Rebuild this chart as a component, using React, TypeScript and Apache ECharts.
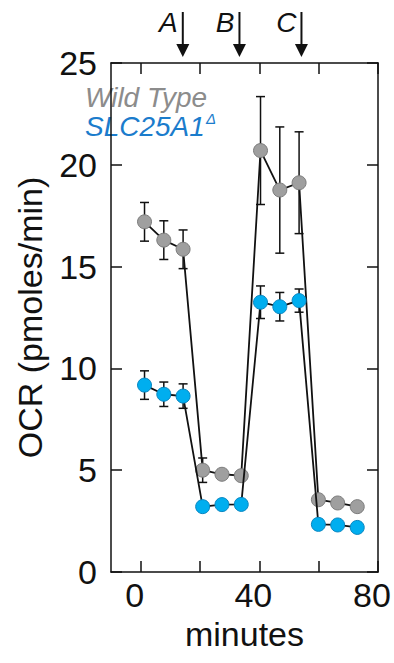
import React, { useEffect, useRef } from "react";
import * as echarts from "echarts";

const times = [1.3, 7.8, 14.3, 20.9, 27.4, 33.9, 40.4, 46.9, 53.4, 59.9, 66.4, 73.0];
const wildType = [17.2, 16.3, 15.85, 5.0, 4.8, 4.73, 20.7, 18.76, 19.12, 3.55, 3.39, 3.21];
const wildTypeErr = [0.95, 0.95, 0.95, 0.6, 0.2, 0.2, 2.65, 3.1, 2.5, 0.15, 0.15, 0.15];
const slc = [9.18, 8.73, 8.64, 3.21, 3.31, 3.32, 13.25, 13.03, 13.33, 2.34, 2.31, 2.19];
const slcErr = [0.7, 0.6, 0.6, 0.15, 0.15, 0.15, 0.8, 0.7, 0.57, 0.1, 0.1, 0.1];

const xTicks = [0, 20, 40, 60, 80];
const xLabels = [0, 40, 80];
const injectionTimes = [14.2, 33.3, 54.2];
const injectionLabels = ["A", "B", "C"];

const FONT = "Liberation Sans, Arial, Helvetica, sans-serif";

export default function App() {
  const ref = useRef<HTMLDivElement>(null);
  useEffect(() => {
    document.body.style.margin = "0";
    const chart = echarts.init(ref.current!, null, { renderer: "svg" });
    const errData = (vals: number[], errs: number[]) =>
      times.map((t, i) => [t, vals[i], errs[i]]);
    const renderErr = (params: any, api: any) => {
      const x = api.value(0);
      const y = api.value(1);
      const e = api.value(2);
      const top = api.coord([x, y + e]);
      const bot = api.coord([x, y - e]);
      const hw = 4.5;
      const st = { stroke: "#111", lineWidth: 1.5 };
      return {
        type: "group",
        children: [
          { type: "line", shape: { x1: top[0], y1: top[1], x2: bot[0], y2: bot[1] }, style: st },
          { type: "line", shape: { x1: top[0] - hw, y1: top[1], x2: top[0] + hw, y2: top[1] }, style: st },
          { type: "line", shape: { x1: bot[0] - hw, y1: bot[1], x2: bot[0] + hw, y2: bot[1] }, style: st },
        ],
      };
    };
    const axisLine = { show: true, onZero: false, lineStyle: { color: "#111", width: 1.5 } };
    const tick = { show: true, inside: true, length: 11, lineStyle: { color: "#111", width: 1.5 } };
    chart.setOption({
      animation: false,
      grid: { left: 111, right: 16, top: 63, bottom: 91 },
      xAxis: [
        {
          type: "value",
          min: -10,
          max: 80,
          position: "bottom",
          axisLine,
          axisTick: { ...tick, customValues: xTicks },
          axisLabel: {
            customValues: xLabels,
            fontSize: 34,
            fontFamily: FONT,
            color: "#111",
            margin: 6,
            padding: [0, 12, 0, 0],
          },
          splitLine: { show: false },
          name: "minutes",
          nameLocation: "middle",
          nameGap: 44,
          nameTextStyle: { fontSize: 34, fontFamily: FONT, color: "#111" },
        },
        {
          type: "value",
          min: -10,
          max: 80,
          position: "top",
          axisLine,
          axisTick: { ...tick, customValues: xTicks },
          axisLabel: { show: false },
          splitLine: { show: false },
        },
      ],
      yAxis: [
        {
          type: "value",
          min: 0,
          max: 25,
          interval: 5,
          position: "left",
          axisLine,
          axisTick: tick,
          axisLabel: { fontSize: 34, fontFamily: FONT, color: "#111", margin: 14 },
          splitLine: { show: false },
          name: "OCR (pmoles/min)",
          nameLocation: "middle",
          nameGap: 64,
          nameTextStyle: { fontSize: 34, fontFamily: FONT, color: "#111" },
        },
        {
          type: "value",
          min: 0,
          max: 25,
          interval: 5,
          position: "right",
          axisLine,
          axisTick: tick,
          axisLabel: { show: false },
          splitLine: { show: false },
        },
      ],
      series: [
        {
          type: "custom",
          name: "wtErr",
          renderItem: renderErr,
          data: errData(wildType, wildTypeErr),
          z: 1,
          encode: { x: 0, y: 1 },
        },
        {
          type: "custom",
          name: "slcErr",
          renderItem: renderErr,
          data: errData(slc, slcErr),
          z: 1,
          encode: { x: 0, y: 1 },
        },
        {
          type: "line",
          name: "Wild Type",
          data: times.map((t, i) => [t, wildType[i]]),
          symbol: "circle",
          symbolSize: 14,
          lineStyle: { color: "#111", width: 1.8 },
          itemStyle: { color: "#9f9f9f", borderColor: "#7c7c7c", borderWidth: 1 },
          z: 3,
        },
        {
          type: "line",
          name: "SLC25A1",
          data: times.map((t, i) => [t, slc[i]]),
          symbol: "circle",
          symbolSize: 14,
          lineStyle: { color: "#111", width: 1.8 },
          itemStyle: { color: "#00aeef", borderColor: "#0a86c0", borderWidth: 1 },
          z: 4,
        },
      ],
    });

    const graphics: any[] = [];
    injectionTimes.forEach((t, i) => {
      const px = chart.convertToPixel({ xAxisIndex: 0 }, t) as number;
      graphics.push(
        { type: "line", shape: { x1: px, y1: 12, x2: px, y2: 46 }, style: { stroke: "#111", lineWidth: 2 } },
        { type: "polygon", shape: { points: [[px - 6.5, 44], [px + 6.5, 44], [px, 57]] }, style: { fill: "#111" } },
        {
          type: "text",
          style: {
            text: injectionLabels[i],
            x: px - 5,
            y: 22,
            align: "right",
            verticalAlign: "middle",
            font: `italic 28px ${FONT}`,
            fill: "#111",
          },
        }
      );
    });
    graphics.push(
      {
        type: "text",
        style: {
          text: "Wild Type",
          x: 85,
          y: 97,
          verticalAlign: "middle",
          font: `italic 28px ${FONT}`,
          fill: "#8c8c8c",
        },
      },
      {
        type: "text",
        style: {
          text: "SLC25A1",
          x: 85,
          y: 126,
          verticalAlign: "middle",
          font: `italic 28px ${FONT}`,
          fill: "#1b7ccc",
        },
      },
      {
        type: "text",
        style: {
          text: "Δ",
          x: 206,
          y: 118,
          verticalAlign: "middle",
          font: `italic 15px ${FONT}`,
          fill: "#1b7ccc",
        },
      }
    );
    chart.setOption({ graphic: graphics });
    return () => chart.dispose();
  }, []);
  return <div ref={ref} style={{ width: 394, height: 663 }} />;
}
